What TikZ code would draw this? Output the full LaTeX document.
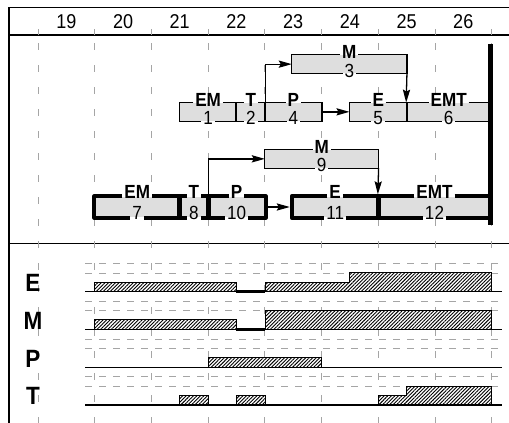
\documentclass[tikz,border=0pt]{standalone}
\usepackage{fontspec}
\setmainfont{Liberation Sans}[FakeStretch=0.9]
\usepackage{tikz}
\usetikzlibrary{arrows.meta, patterns.meta, fit}
\definecolor{barfill}{RGB}{222,222,222}
\definecolor{gridgray}{RGB}{165,165,165}

\begin{document}
\begin{tikzpicture}[x=0.5pt, y=-0.5pt,
  grid/.style={gridgray, line width=0.4pt, dash pattern=on 3.5pt off 7.5pt},
  levelline/.style={gridgray, line width=0.4pt, dash pattern=on 3.5pt off 3.5pt},
  barbox/.style={fill=barfill, inner sep=0pt},
  nm/.style={font=\fontsize{9.5}{10}\selectfont\bfseries, inner sep=0.8pt, anchor=base},
  nr/.style={font=\fontsize{9.5}{10}\selectfont, inner sep=0.8pt, anchor=base},
  hdr/.style={font=\fontsize{10}{11}\selectfont},
  rowlab/.style={font=\fontsize{12.5}{13}\selectfont\bfseries},
  hatch/.style={draw, line width=0.5pt, preaction={fill=white},
    pattern={Lines[angle=45, distance=1.25pt, line width=0.45pt]}},
  link/.style={line width=0.65pt, -{Stealth[length=6.5pt, width=3.6pt, inset=1pt]}}]
  \useasboundingbox (0,0) rectangle (509,423);
  \def\thinbars{1/EM/179.75/236.45/103/120.7, 2/T/236.45/265.2/103/120.7,
    4/P/265.2/321.5/103/120.7, 5/E/349.85/406.55/103/120.7,
    6/EMT/406.55/490.8/103/120.7, 3/M/292.15/406.55/55/73.3,
    9/M/265.2/378.2/150/167.7}
  \def\thickbars{7/EM/94.7/179.75/196.7/217.3, 8/T/179.75/208.1/196.7/217.3,
    10/P/208.1/265.2/196.7/217.3, 11/E/292.15/378.2/196.7/217.3,
    12/EMT/378.2/490.8/196.7/217.3}
  % frame
  \draw[line width=0.6pt] (9,423) -- (9,7.5) -- (509,7.5);
  \draw[line width=0.6pt] (9,35) -- (509,35);
  \draw[line width=0.6pt] (9,243.5) -- (509,243.5);
  % day columns
  \foreach \d [count=\i from 0] in {19,...,26}
    \node[hdr] (day\d) at ({38+56.7*(\i+0.5)},21.7) {\d};
  \foreach \i in {0,...,8} {
    \draw[gridgray, line width=0.4pt] ({38+56.7*\i},29) -- ({38+56.7*\i},35);
    \draw[grid] ({38+56.7*\i},43) -- ({38+56.7*\i},423);
  }
  % bars
  \foreach \nr/\nm/\a/\b/\yt/\yb in \thinbars
    \node[barbox, fit={(\a,\yt) (\b,\yb)}] (b\nr) {};
  \foreach \nr/\nm/\a/\b/\yt/\yb in \thickbars
    \node[barbox, fit={(\a,\yt) (\b,\yb)}] (b\nr) {};
  \foreach \nr/\nm/\a/\b/\yt/\yb in \thinbars {
    \node[nm] (n\nr) at ({(\a+\b)/2},\yt+3) {\nm};
    \node[nr] (m\nr) at ({(\a+\b)/2},\yb+4) {\nr};
    \draw[line width=0.6pt] (n\nr.west |- b\nr.north) -- (b\nr.north west)
      -- (b\nr.south west) -- (m\nr.west |- b\nr.south);
    \draw[line width=0.6pt] (n\nr.east |- b\nr.north) -- (b\nr.north east)
      -- (b\nr.south east) -- (m\nr.east |- b\nr.south);
  }
  \foreach \nr/\nm/\a/\b/\yt/\yb in \thickbars {
    \node[nm] (n\nr) at ({(\a+\b)/2},\yt+2) {\nm};
    \node[nr] (m\nr) at ({(\a+\b)/2},\yb+2.5) {\nr};
    \draw[line width=2pt, line join=round] (n\nr.west |- b\nr.north) -- (b\nr.north west)
      -- (b\nr.south west) -- (m\nr.west |- b\nr.south);
    \draw[line width=2pt, line join=round] (n\nr.east |- b\nr.north) -- (b\nr.north east)
      -- (b\nr.south east) -- (m\nr.east |- b\nr.south);
  }
  % links
  \draw[link] (b2.south east) |- (b3.west);
  \draw[link] (b3.south east) -- (b6.north west);
  \draw[link] (b4.east) -- (b5.west);
  \draw[link] (b8.north east) |- (b9.west);
  \draw[link, shorten >=1pt] (b9.south east) -- (b12.north west);
  \draw[link, shorten <=1pt, shorten >=1pt] (b10.east) -- (b11.west);
  \draw[line width=2.5pt] (490.8,44) -- (490.8,225);
  % load rows
  \foreach \lab/\y in {E/291.7, M/329.3, P/367.3, T/405} {
    \node[rowlab] (row\lab) at (33,\y-8.7) {\lab};
    \draw[levelline] (85,\y-18.8) -- (502,\y-18.8);
    \draw[levelline] (85,\y-28.2) -- (502,\y-28.2);
  }
  \draw[hatch] (94.7,291.7) rectangle (236.45,282.3);
  \draw[hatch] (265.2,291.7) -- (265.2,282.3) -- (349.85,282.3) -- (349.85,272.9)
    -- (491.6,272.9) -- (491.6,291.7) -- cycle;
  \draw[hatch] (94.7,329.3) rectangle (236.45,319.9);
  \draw[hatch] (265.2,329.3) rectangle (491.6,310.5);
  \draw[hatch] (208.1,367.3) rectangle (321.5,357.9);
  \draw[hatch] (179.75,405) rectangle (208.1,395.6);
  \draw[hatch] (236.45,405) rectangle (265.2,395.6);
  \draw[hatch] (378.2,405) -- (378.2,395.6) -- (406.55,395.6) -- (406.55,386.2)
    -- (491.6,386.2) -- (491.6,405) -- cycle;
  \foreach \y in {291.7,329.3,367.3,405}
    \draw[line width=0.6pt] (85,\y) -- (502,\y);
  \draw[line width=1.4pt] (236.45,291.7) -- (265.2,291.7);
  \draw[line width=1.4pt] (236.45,329.3) -- (265.2,329.3);
\end{tikzpicture}
\end{document}
